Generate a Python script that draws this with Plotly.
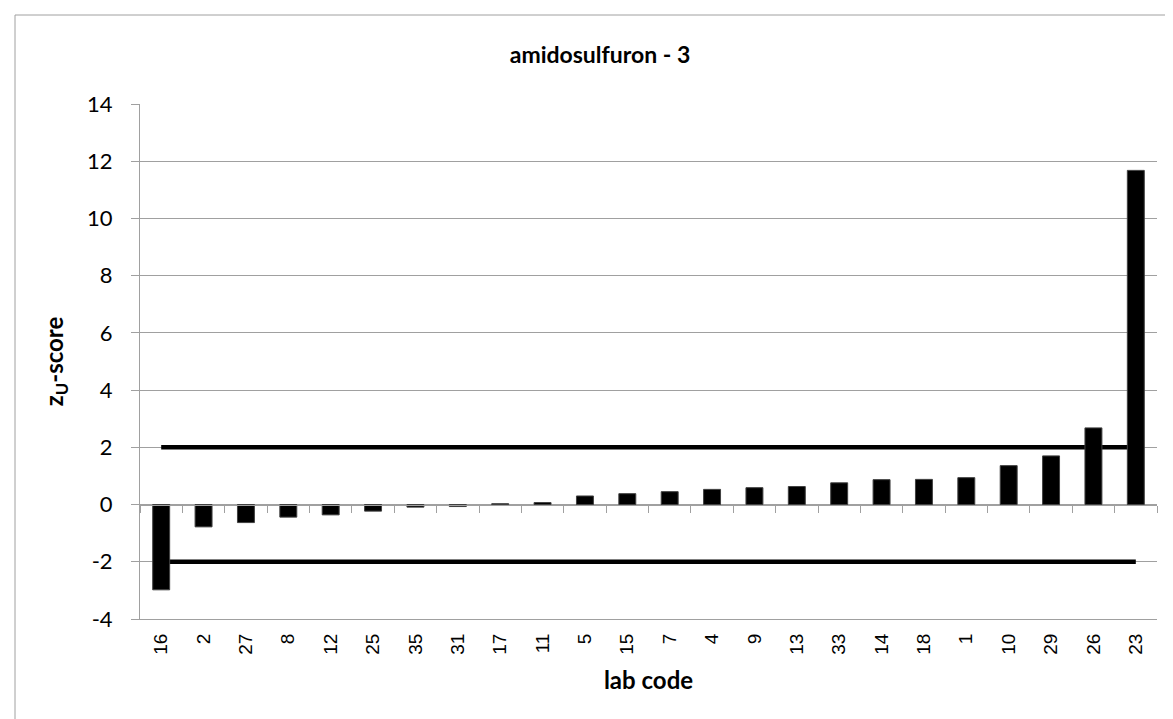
import plotly.graph_objects as go

# Data
labs = ['16', '2', '27', '8', '12', '25', '35', '31', '17', '11', '5', '15',
        '7', '4', '9', '13', '33', '14', '18', '1', '10', '29', '26', '23']
zu = [-2.98, -0.78, -0.63, -0.44, -0.36, -0.23, -0.09, -0.07, 0.03, 0.07, 0.30, 0.38,
      0.45, 0.53, 0.59, 0.63, 0.76, 0.87, 0.88, 0.94, 1.36, 1.70, 2.68, 11.68]
upper_limit = 2
lower_limit = -2
y_ticks = [-4, -2, 0, 2, 4, 6, 8, 10, 12, 14]
y_ticktext = ['-4', '-2', '0', '2', '4', '6', '8', '10', '12', '14']

grey = '#a0a0a0'
fig = go.Figure()

# Bars sit on x2 so the category axis can cross at zero.
fig.add_trace(go.Bar(x = labs, y = zu, xaxis = 'x2',
                     marker = dict(color = 'black', line = dict(color = '#404040', width = 1))))

# Limit lines, first lab to last lab.
for lim in (upper_limit, lower_limit):
    fig.add_trace(go.Scatter(x = [labs[0], labs[-1]], y = [lim, lim], mode = 'lines',
                             line = dict(color = 'black', width = 4.5)))

fig.update_layout(
    width = 1173, height = 719,
    margin = dict(l = 132, r = 24, t = 96, b = 108),
    paper_bgcolor = 'white', plot_bgcolor = 'white',
    showlegend = False, bargap = 0.6,
    title = dict(text = '<b>amidosulfuron - 3</b>', x = 592 / 1173, xanchor = 'center',
                 y = 1 - 47 / 719, yanchor = 'middle',
                 font = dict(family = 'Lato', size = 23, color = 'black')),
    xaxis = dict(type = 'category', categoryorder = 'array', categoryarray = labs,
                 range = [-0.5, len(labs) - 0.5], showgrid = False, zeroline = False,
                 showline = True, linecolor = grey, ticks = '', tickangle = -90,
                 ticklabelstandoff = 6,
                 tickfont = dict(family = 'Liberation Sans', size = 19, color = 'black'),
                 title = dict(text = '<b>lab code</b>', standoff = 18,
                              font = dict(family = 'Lato', size = 24, color = 'black'))),
    xaxis2 = dict(type = 'category', matches = 'x', overlaying = 'x', anchor = 'free',
                  position = (0 - (-4)) / 18, showgrid = False, zeroline = False,
                  showline = True, linecolor = grey, ticks = 'outside', ticklen = 7,
                  tickcolor = grey, tickson = 'boundaries', showticklabels = False),
    yaxis = dict(range = [-4, 14], tickvals = y_ticks, ticktext = y_ticktext,
                 showgrid = True, gridcolor = grey, gridwidth = 1,
                 zeroline = False, showline = True, linecolor = grey, ticks = 'outside',
                 ticklen = 8, tickcolor = grey, ticklabelstandoff = 14,
                 tickfont = dict(family = 'Lato', size = 22, color = 'black'),
                 title = dict(text = '<b>z<sub>U</sub>-score</b>', standoff = 16,
                              font = dict(family = 'Lato', size = 24, color = 'black'))),
    shapes = [dict(type = 'rect', xref = 'paper', yref = 'paper',
                   x0 = (7 - 132) / 1017, x1 = 1.2, y0 = -0.5, y1 = (611 - 7) / 515,
                   line = dict(color = grey, width = 1))],
)

fig.write_html('out.html')
